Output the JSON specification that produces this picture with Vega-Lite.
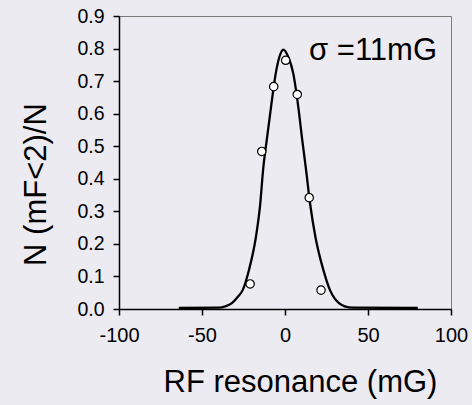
{
  "$schema": "https://vega.github.io/schema/vega-lite/v6.json",
  "width": 332,
  "height": 293,
  "autosize": {"type": "none"},
  "padding": {"left": 119, "top": 16, "right": 21, "bottom": 96},
  "background": "#ecebf2",
  "config": {
    "view": {"stroke": "#7a7a7a", "strokeWidth": 1},
    "axis": {
      "grid": false,
      "domainColor": "black",
      "domainWidth": 1.5,
      "tickColor": "black",
      "tickWidth": 1.5,
      "tickSize": 6,
      "labelColor": "black",
      "titleColor": "black",
      "titleFontWeight": "normal",
      "labelOverlap": false,
      "labelFlush": false,
      "labelBound": false
    }
  },
  "datasets": {
    "fit": [
      {"B": -64, "N": 0.003},
      {"B": -40, "N": 0.004},
      {"B": -36, "N": 0.008},
      {"B": -32, "N": 0.018},
      {"B": -28.5, "N": 0.037},
      {"B": -25.5, "N": 0.058},
      {"B": -21.7, "N": 0.12},
      {"B": -17.5, "N": 0.222},
      {"B": -14.9, "N": 0.324},
      {"B": -13.2, "N": 0.427},
      {"B": -11, "N": 0.519},
      {"B": -8.4, "N": 0.621},
      {"B": -5.6, "N": 0.723},
      {"B": -3.4, "N": 0.774},
      {"B": -1, "N": 0.797},
      {"B": 2, "N": 0.774},
      {"B": 5, "N": 0.723},
      {"B": 8, "N": 0.621},
      {"B": 10.4, "N": 0.519},
      {"B": 12.7, "N": 0.427},
      {"B": 15.1, "N": 0.324},
      {"B": 18.3, "N": 0.222},
      {"B": 23.1, "N": 0.12},
      {"B": 27.1, "N": 0.058},
      {"B": 30, "N": 0.032},
      {"B": 32.7, "N": 0.017},
      {"B": 36, "N": 0.008},
      {"B": 41, "N": 0.004},
      {"B": 80, "N": 0.003}
    ],
    "points": [
      {"B": -21, "N": 0.077},
      {"B": -14, "N": 0.484},
      {"B": -6.8, "N": 0.683},
      {"B": 0.4, "N": 0.764},
      {"B": 7.4, "N": 0.659},
      {"B": 14.6, "N": 0.342},
      {"B": 21.7, "N": 0.058}
    ],
    "note": [
      {"B": 14.5, "N": 0.766, "label": "σ =11mG"}
    ]
  },
  "encoding": {
    "x": {
      "field": "B", "type": "quantitative",
      "scale": {"domain": [-100, 100], "nice": false, "zero": false},
      "axis": {
        "values": [-100, -50, 0, 50, 100],
        "labelExpr": "'' + datum.value",
        "labelFont": "Liberation Sans",
        "labelFontSize": 20,
        "labelPadding": 10,
        "title": "RF resonance (mG)",
        "titleFont": "Liberation Sans",
        "titleFontSize": 31,
        "titlePadding": 22,
        "titleX": 181
      }
    },
    "y": {
      "field": "N", "type": "quantitative",
      "scale": {"domain": [0, 0.9], "nice": false},
      "axis": {
        "values": [0, 0.1, 0.2, 0.3, 0.4, 0.5, 0.6, 0.7, 0.8, 0.9],
        "format": ".1f",
        "labelFont": "Liberation Sans",
        "labelFontSize": 19.5,
        "labelPadding": 9,
        "title": "N (mF<2)/N",
        "titleFont": "Liberation Sans",
        "titleFontSize": 31,
        "titlePadding": 24,
        "titleY": 168
      }
    }
  },
  "layer": [
    {
      "data": {"name": "fit"},
      "mark": {"type": "line", "color": "black", "strokeWidth": 2.3, "interpolate": "monotone"}
    },
    {
      "data": {"name": "points"},
      "mark": {"type": "point", "shape": "circle", "filled": true, "fill": "white", "stroke": "black", "strokeWidth": 1.2, "size": 70, "opacity": 1}
    },
    {
      "data": {"name": "note"},
      "mark": {"type": "text", "align": "left", "baseline": "alphabetic", "font": "Liberation Sans", "fontSize": 31, "color": "black"},
      "encoding": {
        "text": {"field": "label"}
      }
    }
  ]
}
